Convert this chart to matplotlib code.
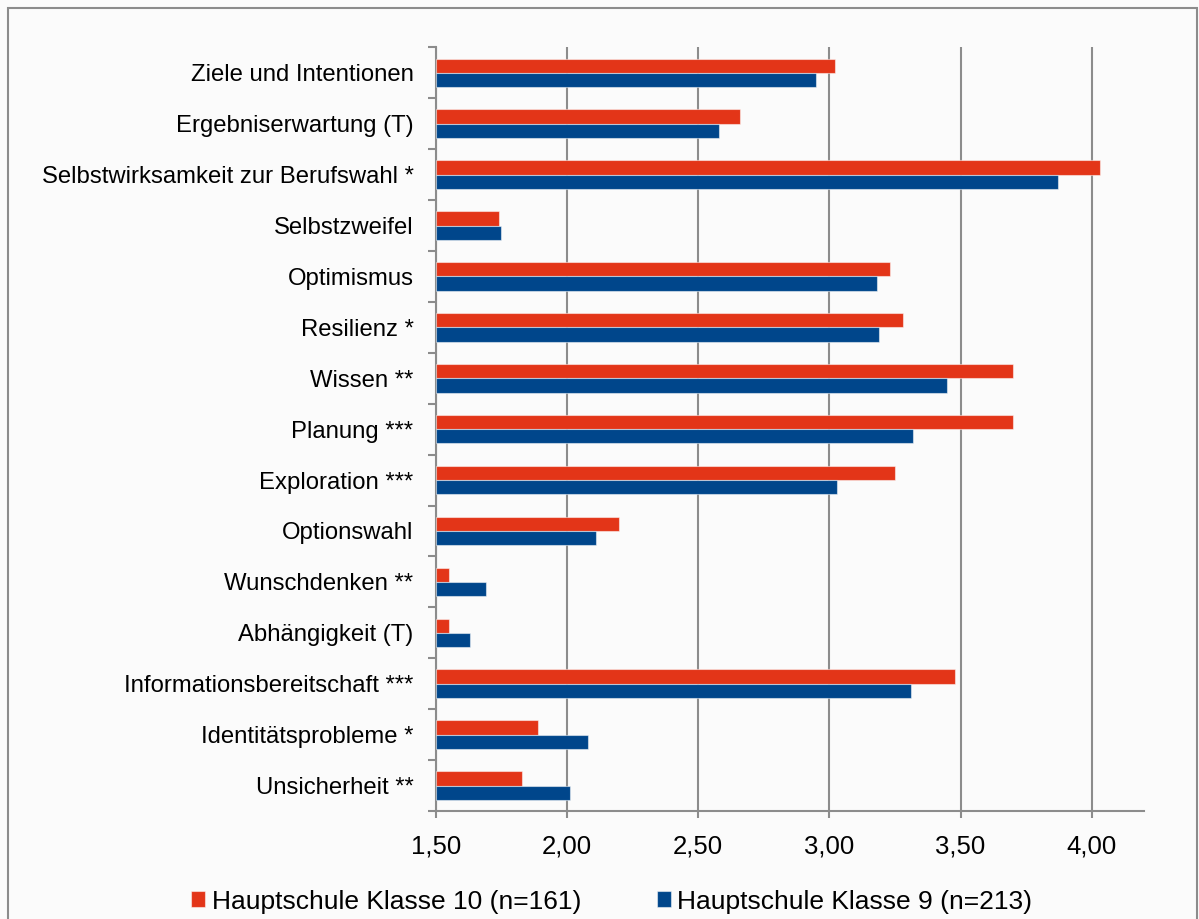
import numpy as np
import matplotlib.pyplot as plt
from matplotlib.patches import Rectangle
from matplotlib.ticker import FuncFormatter, MultipleLocator

# Skalen der Berufswahlbereitschaft, von oben nach unten
skalen = ['Ziele und Intentionen', 'Ergebniserwartung (T)',
          'Selbstwirksamkeit zur Berufswahl *', 'Selbstzweifel', 'Optimismus',
          'Resilienz *', 'Wissen **', 'Planung ***', 'Exploration ***',
          'Optionswahl', 'Wunschdenken **', 'Abhängigkeit (T)',
          'Informationsbereitschaft ***', 'Identitätsprobleme *',
          'Unsicherheit **']

# Mittelwerte je Gruppe
klasse10 = [3.02, 2.66, 4.03, 1.74, 3.23, 3.28, 3.70, 3.70, 3.25, 2.20,
            1.55, 1.55, 3.48, 1.89, 1.83]
klasse9 = [2.95, 2.58, 3.87, 1.75, 3.18, 3.19, 3.45, 3.32, 3.03, 2.11,
           1.69, 1.63, 3.31, 2.08, 2.01]

label10 = 'Hauptschule Klasse 10 (n=161)'
label9 = 'Hauptschule Klasse 9 (n=213)'

rot = '#E33518'
blau = '#00468B'
grau = '#8C8C8C'
hg = '#FBFBFB'

plt.rcParams['font.family'] = ['Liberation Sans', 'DejaVu Sans']

fig = plt.figure(figsize=(11.99, 9.19), dpi=100, facecolor=hg)
ax = fig.add_axes([0.3634, 0.1175, 0.591, 0.831])
ax.set_facecolor(hg)

y = np.arange(len(skalen))
h = 0.28
basis = 1.5
b10 = ax.barh(y - h / 2, np.array(klasse10) - basis, left=basis, height=h,
              color=rot, edgecolor=(1, 1, 1, 0.5), linewidth=0.8, label=label10, zorder=3)
b9 = ax.barh(y + h / 2, np.array(klasse9) - basis, left=basis, height=h,
             color=blau, edgecolor=(1, 1, 1, 0.5), linewidth=0.8, label=label9, zorder=3)

ax.set_xlim(1.5, 4.2)
ax.set_ylim(len(skalen) - 0.5, -0.5)

ax.xaxis.set_major_locator(MultipleLocator(0.5))
ax.xaxis.set_major_formatter(FuncFormatter(lambda v, p: f'{v:.2f}'.replace('.', ',')))
ax.grid(axis='x', color=grau, linewidth=1.5, zorder=0)

ax.set_yticks(y)
ax.set_yticklabels(skalen)
ax.set_yticks(np.arange(-0.5, len(skalen)), minor=True)
ax.tick_params(axis='y', which='major', length=0, pad=16, labelsize=17.2)
ax.tick_params(axis='y', which='minor', length=6, width=1.5, color=grau)
ax.tick_params(axis='x', length=5, width=1.5, color=grau, pad=12, labelsize=18.5)

for s in ['top', 'right']:
    ax.spines[s].set_visible(False)
for s in ['left', 'bottom']:
    ax.spines[s].set_color(grau)
    ax.spines[s].set_linewidth(1.5)

fig.legend(handles=[b10, b9], loc='center', bbox_to_anchor=(0.5104, 0.019),
           ncol=2, frameon=False, fontsize=19, handlelength=0.53,
           handleheight=0.53, handletextpad=0.23, columnspacing=2.9)

# Rahmen um das ganze Diagramm
fig.patches.append(Rectangle((7.5 / 1199, -0.05), 1189 / 1199, 1.05 - 7.5 / 919,
                             transform=fig.transFigure, fill=False,
                             edgecolor=grau, linewidth=1.5))

fig.savefig('out.png', dpi=100, facecolor=hg)
